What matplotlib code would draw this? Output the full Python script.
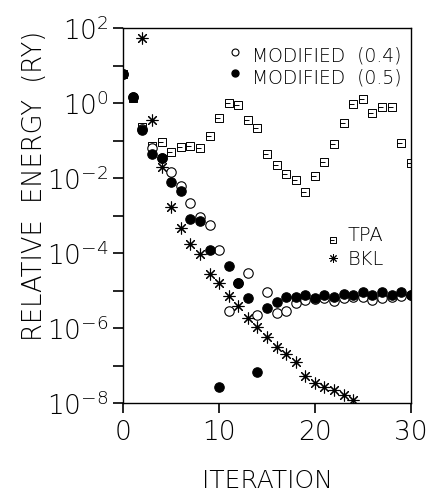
import numpy as np
import matplotlib
matplotlib.use("Agg")
import matplotlib.pyplot as plt
from matplotlib.path import Path

plt.rcParams['font.family'] = ['DejaVu Sans']
plt.rcParams['font.weight'] = 'light'
plt.rcParams['mathtext.default'] = 'regular'

# ---- data ----
iterations = list(range(0, 31))

tpa = [5.9, 1.4, 0.23, 0.074, 0.093, 0.051, 0.069, 0.072, 0.063, 0.13,
       0.40, 1.02, 0.89, 0.36, 0.22, 0.045, 0.023, 0.0126, 0.0089, 0.0044,
       0.0115, 0.0275, 0.083, 0.295, 0.95, 1.29, 0.54, 0.81, 0.81, 0.089, 0.025]

bkl_iter = list(range(2, 25))
bkl = [56, 0.36, 0.0195, 1.74e-3, 4.7e-4, 1.7e-4, 9.5e-5, 2.75e-5, 1.6e-5,
       7.1e-6, 4.0e-6, 1.8e-6, 1.07e-6, 5.6e-7, 3.2e-7, 2.0e-7, 1.23e-7,
       5.4e-8, 3.5e-8, 2.6e-8, 2.2e-8, 1.6e-8, 1.17e-8]

mod05 = [6.0, 1.48, 0.19, 0.045, 0.034, 7.9e-3, 4.6e-3, 8.3e-4, 7.4e-4, 1.23e-4,
         2.75e-8, 4.4e-5, 1.6e-5, 6.2e-6, 6.6e-8, 3.5e-6, 4.9e-6, 6.9e-6, 6.8e-6,
         7.8e-6, 6.3e-6, 7.8e-6, 6.9e-6, 8.3e-6, 7.4e-6, 9.3e-6, 7.4e-6, 8.9e-6,
         7.4e-6, 8.9e-6, 7.4e-6]

mod04 = [6.0, 1.48, 0.21, 0.063, 0.034, 0.0148, 6.0e-3, 2.2e-3, 9.3e-4, 5.5e-4,
         1.2e-4, 2.9e-6, 1.6e-5, 3.0e-5, 2.3e-6, 8.9e-6, 2.6e-6, 2.9e-6, 4.7e-6,
         5.6e-6, 6.0e-6, 6.3e-6, 5.2e-6, 6.3e-6, 6.6e-6, 6.6e-6, 5.5e-6, 6.2e-6,
         6.6e-6, 7.1e-6, 7.4e-6]

xticks = [0, 10, 20, 30]
ytick_exps = [2, 0, -2, -4, -6, -8]
yminor_exps = [1, -1, -3, -5, -7]
ylabel = "RELATIVE  ENERGY  (RY)"
xlabel = "ITERATION"
labels = ["MODIFIED  (0.4)", "MODIFIED  (0.5)", "TPA", "BKL"]

# ---- marker for TPA (square with inner stroke) ----
sq_verts = [(-1, -1), (1, -1), (1, 1), (-1, 1), (-1, -1), (-1, 0), (0.3, 0)]
sq_codes = [Path.MOVETO, Path.LINETO, Path.LINETO, Path.LINETO, Path.CLOSEPOLY,
            Path.MOVETO, Path.LINETO]
tpa_marker = Path(sq_verts, sq_codes)

W, H = 427, 493
fig = plt.figure(figsize=(W / 100, H / 100), dpi=100)
x0, x1 = 123.3, 410.7
ytop, ybot = 28.3, 403.0
ax = fig.add_axes([x0 / W, 1 - ybot / H, (x1 - x0) / W, (ybot - ytop) / H])

ax.set_yscale('log')
ax.set_xlim(0, 30)
ax.set_ylim(1e-8, 1e2)

ms_c = 6.8
ax.plot(iterations, tpa, linestyle='none', marker=tpa_marker, markersize=6.0,
        markerfacecolor='none', markeredgecolor='black', markeredgewidth=0.7, zorder=3)
ax.plot(iterations, mod04, linestyle='none', marker='o', markersize=ms_c,
        markerfacecolor='white', markeredgecolor='black', markeredgewidth=0.8, zorder=4)
ax.plot(iterations, mod05, linestyle='none', marker='o', markersize=ms_c,
        markerfacecolor='black', markeredgecolor='black', markeredgewidth=0.8, zorder=5)
ax.plot(bkl_iter, bkl, linestyle='none', marker=(8, 2, 0), markersize=8.5,
        markeredgecolor='black', markeredgewidth=0.8, zorder=6)

# ticks
ax.set_xticks(xticks)
ax.set_xticklabels([str(t) for t in xticks])
ax.set_yticks([10.0 ** e for e in ytick_exps])
ax.set_yticklabels([r'$\mathregular{10^{%d}}$' % e for e in ytick_exps])
ax.set_yticks([10.0 ** e for e in yminor_exps], minor=True)
ax.yaxis.set_minor_formatter(matplotlib.ticker.NullFormatter())
ax.xaxis.set_minor_locator(matplotlib.ticker.NullLocator())
ax.tick_params(axis='both', which='both', direction='out', length=7.5, width=1.2,
               color='black', top=False, right=False)
ax.tick_params(axis='x', labelsize=19, pad=5)
ax.tick_params(axis='y', labelsize=19, pad=3)
for s in ax.spines.values():
    s.set_linewidth(1.0)

# axis labels
fig.text(35 / W, 1 - 186 / H, ylabel, rotation=90, ha='center', va='center', fontsize=18.5)
fig.text(267 / W, 1 - 481 / H, xlabel, ha='center', va='center', fontsize=18)

# legends (keys + text)
def ax_x(px):
    return (px - x0) / (x1 - x0)

def ax_y(py):
    return (ybot - py) / (ybot - ytop)

tr = ax.transAxes
ax.plot([ax_x(235)], [ax_y(51.7)], transform=tr, marker='o', markersize=5,
        markerfacecolor='white', markeredgecolor='black', markeredgewidth=0.8, clip_on=False)
ax.plot([ax_x(235)], [ax_y(73.3)], transform=tr, marker='o', markersize=5,
        markerfacecolor='black', markeredgecolor='black', clip_on=False)
ax.text(ax_x(252), ax_y(61.7), labels[0], transform=tr, ha='left', va='baseline', fontsize=13.5)
ax.text(ax_x(252), ax_y(83.3), labels[1], transform=tr, ha='left', va='baseline', fontsize=13.5)
ax.plot([ax_x(333.3)], [ax_y(240)], transform=tr, marker=tpa_marker, markersize=4.0,
        markerfacecolor='none', markeredgecolor='black', markeredgewidth=0.7, clip_on=False)
ax.plot([ax_x(333.3)], [ax_y(258.3)], transform=tr, marker=(8, 2, 0), markersize=6,
        markeredgecolor='black', markeredgewidth=0.7, clip_on=False)
ax.text(ax_x(348), ax_y(241), labels[2], transform=tr, ha='left', va='baseline', fontsize=14)
ax.text(ax_x(348), ax_y(265), labels[3], transform=tr, ha='left', va='baseline', fontsize=14)

fig.savefig("out.png", dpi=100)
